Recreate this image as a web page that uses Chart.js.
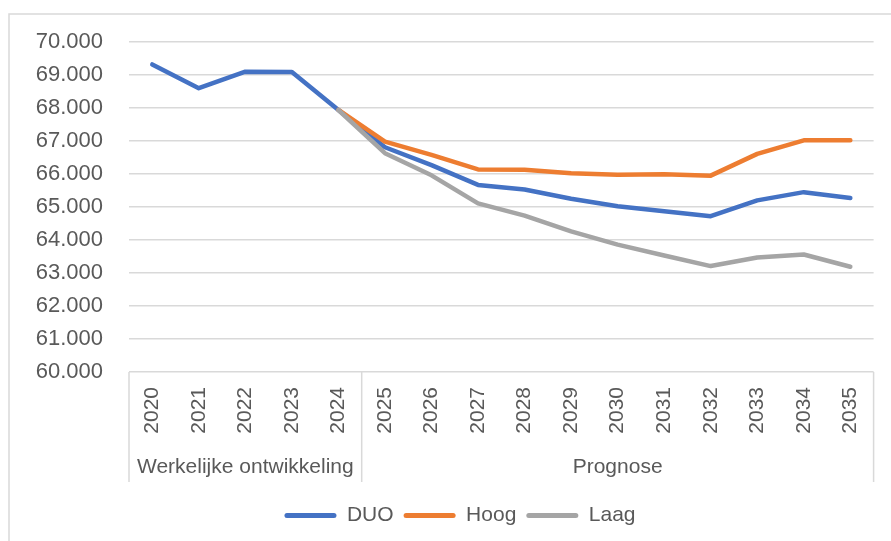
<!DOCTYPE html>
<html>
<head>
<meta charset="utf-8">
<script src="https://cdn.jsdelivr.net/npm/chart.js@4/dist/chart.umd.min.js"></script>
<style>
    html, body { margin: 0; padding: 0; background: #fff; }
    #wrap { width: 891px; height: 541px; position: relative; }
</style>
</head>
<body>
<div id="wrap"><canvas id="leerlingChart"></canvas></div>
<script>
var years = ['2020', '2021', '2022', '2023', '2024', '2025', '2026', '2027',
             '2028', '2029', '2030', '2031', '2032', '2033', '2034', '2035'];
var duo  = [69320, 68600, 69100, 69090, 67940, 66810, 66270, 65670,
            65530, 65250, 65020, 64870, 64720, 65200, 65450, 65270];
var hoog = [null, null, null, null, 67940, 66980, 66580, 66140,
            66130, 66020, 65980, 65990, 65950, 66610, 67020, 67020];
var laag = [null, null, null, null, 67940, 66630, 65960, 65110,
            64740, 64260, 63860, 63530, 63210, 63470, 63560, 63190];
var groups = [
    { label: 'Werkelijke ontwikkeling', from: 0, to: 4 },
    { label: 'Prognose', from: 5, to: 15 }
];
var yMin = 60000, yMax = 70000, yStep = 1000;

var textColor = '#595959';
var gridColor = '#D9D9D9';
var fontFamily = '"Liberation Sans", Arial, sans-serif';

function formatNL(v) {
    return String(Math.round(v)).replace(/\B(?=(\d{3})+(?!\d))/g, '.');
}

// frame, group labels and separators below the x axis
var groupAxisPlugin = {
    id: 'groupAxis',
    afterLayout: function (chart) {
        // legend sits centred under the plot, not under the whole canvas
        var lg = chart.legend;
        if (lg) {
            lg.left += 22;
            lg.right += 22;
        }
    },
    beforeDraw: function (chart) {
        var ctx = chart.ctx;
        ctx.save();
        ctx.strokeStyle = gridColor;
        ctx.lineWidth = 1.5;
        ctx.strokeRect(9, 14, chart.width + 20, chart.height + 20);
        ctx.restore();
    },
    afterDraw: function (chart) {
        var ctx = chart.ctx;
        var x = chart.scales.x;
        var area = chart.chartArea;
        var bottom = area.bottom + 110;
        var half = (x.getPixelForTick(1) - x.getPixelForTick(0)) / 2;
        ctx.save();
        ctx.strokeStyle = gridColor;
        ctx.lineWidth = 1.5;
        ctx.fillStyle = textColor;
        ctx.font = '21px ' + fontFamily;
        ctx.textAlign = 'center';
        ctx.textBaseline = 'middle';
        groups.forEach(function (g, i) {
            var left = x.getPixelForTick(g.from) - half;
            var right = x.getPixelForTick(g.to) + half;
            ctx.beginPath();
            ctx.moveTo(left, area.bottom);
            ctx.lineTo(left, bottom);
            if (i === groups.length - 1) {
                ctx.moveTo(right, area.bottom);
                ctx.lineTo(right, bottom);
            }
            ctx.stroke();
            ctx.fillText(g.label, (left + right) / 2, area.bottom + 95);
        });
        ctx.restore();
    }
};

function lineSet(label, data, color, order) {
    return {
        label: label,
        data: data,
        borderColor: color,
        backgroundColor: color,
        borderWidth: 4.5,
        pointRadius: 0,
        pointHoverRadius: 0,
        tension: 0,
        borderJoinStyle: 'round',
        borderCapStyle: 'round',
        spanGaps: false,
        order: order
    };
}

new Chart(document.getElementById('leerlingChart'), {
    type: 'line',
    data: {
        labels: years,
        datasets: [
            lineSet('DUO', duo, '#4472C4', 3),
            lineSet('Hoog', hoog, '#ED7D31', 2),
            lineSet('Laag', laag, '#A5A5A5', 1)
        ]
    },
    plugins: [groupAxisPlugin],
    options: {
        responsive: true,
        maintainAspectRatio: false,
        animation: false,
        layout: { padding: { top: 42, right: 15, bottom: 5, left: 0 } },
        plugins: {
            tooltip: { enabled: false },
            legend: {
                position: 'bottom',
                labels: {
                    boxWidth: 52,
                    boxHeight: 5,
                    padding: 10,
                    color: textColor,
                    font: { family: fontFamily, size: 21 },
                    sort: function (a, b) { return a.datasetIndex - b.datasetIndex; },
                    generateLabels: function (chart) {
                        var items = Chart.defaults.plugins.legend.labels.generateLabels(chart);
                        items.forEach(function (it) { it.lineWidth = 0; it.borderRadius = 2.5; });
                        return items;
                    },
                    useBorderRadius: true,
                    borderRadius: 2.5
                }
            }
        },
        scales: {
            x: {
                offset: true,
                grid: { display: false, drawTicks: false, offset: true },
                border: { display: false },
                ticks: {
                    color: textColor,
                    font: { family: fontFamily, size: 21 },
                    minRotation: 90,
                    maxRotation: 90,
                    padding: 15,
                    autoSkip: false
                },
                afterFit: function (scale) { scale.height = 123; }
            },
            y: {
                min: yMin,
                max: yMax,
                grid: { color: gridColor, lineWidth: 1.5, drawTicks: false },
                border: { display: false },
                ticks: {
                    stepSize: yStep,
                    color: textColor,
                    font: { family: fontFamily, size: 22 },
                    padding: 26,
                    callback: function (v) { return formatNL(v); }
                },
                afterFit: function (scale) { scale.width = 129; }
            }
        }
    }
});
</script>
</body>
</html>
